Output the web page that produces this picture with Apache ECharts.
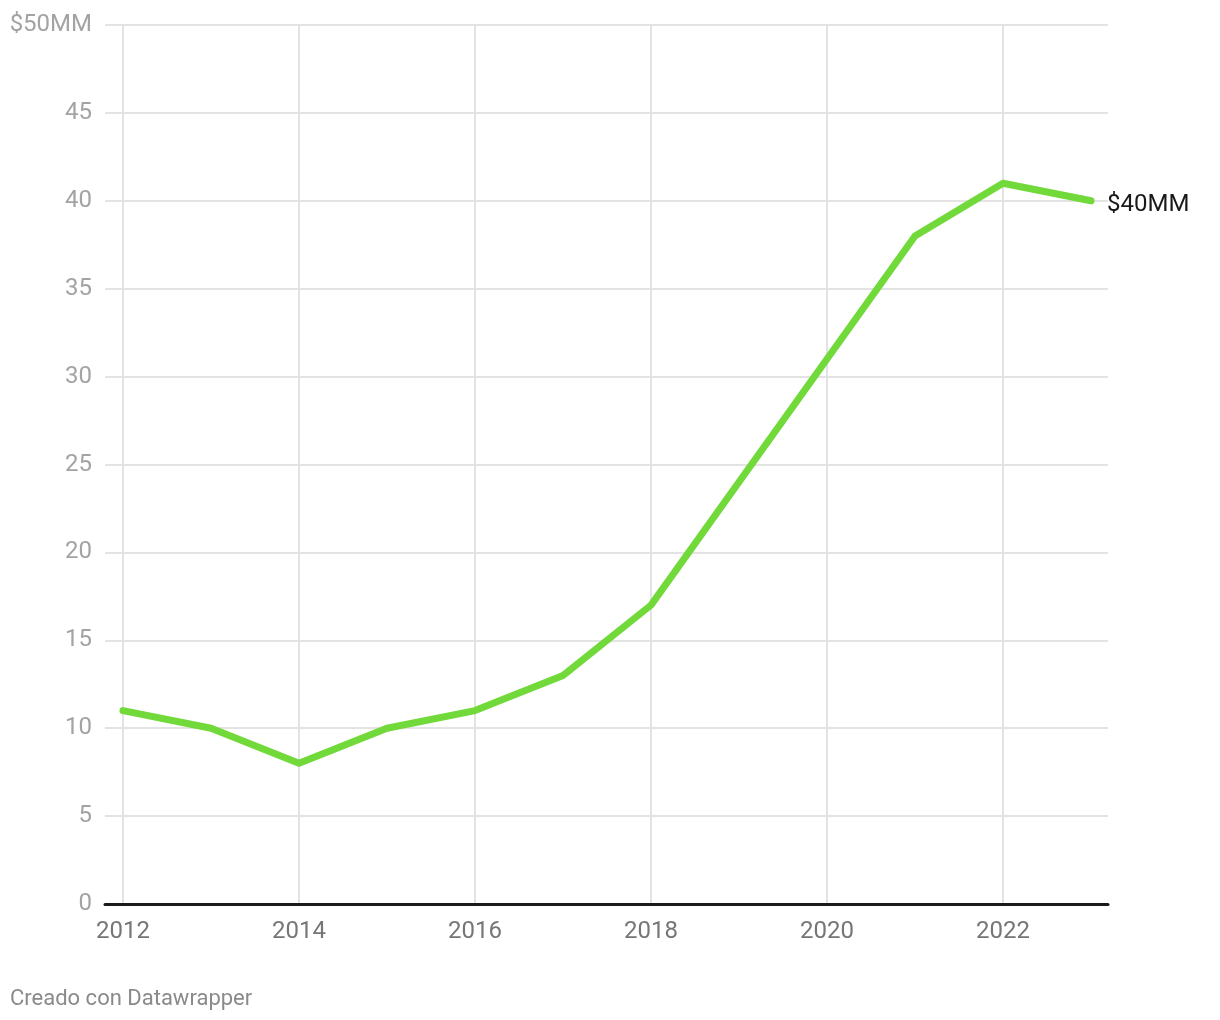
<!DOCTYPE html>
<html>
<head>
<meta charset="utf-8">
<script src="https://cdn.jsdelivr.net/npm/echarts@6/dist/echarts.min.js"></script>
<style>
  html, body { margin: 0; padding: 0; background: #fff; }
  #myChart { width: 1220px; height: 1020px; }
</style>
</head>
<body>
<div id="myChart"></div>
<script>
// data
var years = [2012, 2013, 2014, 2015, 2016, 2017, 2018, 2019, 2020, 2021, 2022, 2023];
var values = [11, 10, 8, 10, 11, 13, 17, 24, 31, 38, 41, 40];
var yMax = 50;
var yStep = 5;

var points = [];
for (var i = 0; i < years.length; i++) {
    points.push([years[i], values[i]]);
}

var myChart = echarts.init(document.getElementById('myChart'));

var font = 'Roboto, "Noto Sans", sans-serif';

var option = {
    animation: false,
    textStyle: { fontFamily: font },
    graphic: [{
        type: 'text',
        left: 10,
        top: 988,
        style: {
            text: 'Creado con Datawrapper',
            fill: '#8a8a8a',
            font: '22px ' + font
        }
    }],
    grid: [
        // plot area for the line + vertical grid lines
        { left: 123, right: 129, top: 25, bottom: 116 },
        // wider area for the horizontal grid lines, y labels and the baseline
        { left: 105, right: 112, top: 25, bottom: 116 }
    ],
    xAxis: [{
        type: 'value',
        gridIndex: 0,
        min: years[0],
        max: years[years.length - 1],
        interval: 2,
        axisLine: { show: false },
        axisTick: { show: false },
        axisLabel: {
            showMaxLabel: false,
            margin: 16,
            color: '#767676',
            fontSize: 24,
            fontFamily: font,
            formatter: function (v) { return String(v); }
        },
        splitLine: {
            show: true,
            showMaxLine: false,
            lineStyle: { color: '#e3e3e3', width: 2 }
        }
    }, {
        type: 'value',
        gridIndex: 1,
        min: 0,
        max: 1,
        axisLine: { show: true, onZero: false, lineStyle: { color: '#1a1a1a', width: 3 } },
        axisTick: { show: false },
        axisLabel: { show: false },
        splitLine: { show: false }
    }],
    yAxis: [{
        type: 'value',
        gridIndex: 0,
        min: 0,
        max: yMax,
        interval: yStep,
        axisLine: { show: false },
        axisTick: { show: false },
        axisLabel: { show: false },
        splitLine: { show: false }
    }, {
        type: 'value',
        gridIndex: 1,
        min: 0,
        max: yMax,
        interval: yStep,
        axisLine: { show: false },
        axisTick: { show: false },
        axisLabel: {
            margin: 13,
            color: '#a3a3a3',
            fontSize: 24,
            fontFamily: font,
            formatter: function (v) { return v === yMax ? '$' + v + 'MM' : v; }
        },
        splitLine: {
            show: true,
            lineStyle: { color: '#e3e3e3', width: 2 }
        }
    }],
    series: [{
        type: 'line',
        xAxisIndex: 0,
        yAxisIndex: 0,
        data: points,
        z: 5,
        symbol: 'none',
        lineStyle: { color: '#72d93a', width: 7, cap: 'round', join: 'round' },
        endLabel: {
            show: true,
            distance: 16,
            offset: [0, 4],
            color: '#1a1a1a',
            fontSize: 24,
            fontFamily: font,
            formatter: function (p) { return '$' + p.value[1] + 'MM'; }
        }
    }]
};

myChart.setOption(option);
</script>
</body>
</html>
